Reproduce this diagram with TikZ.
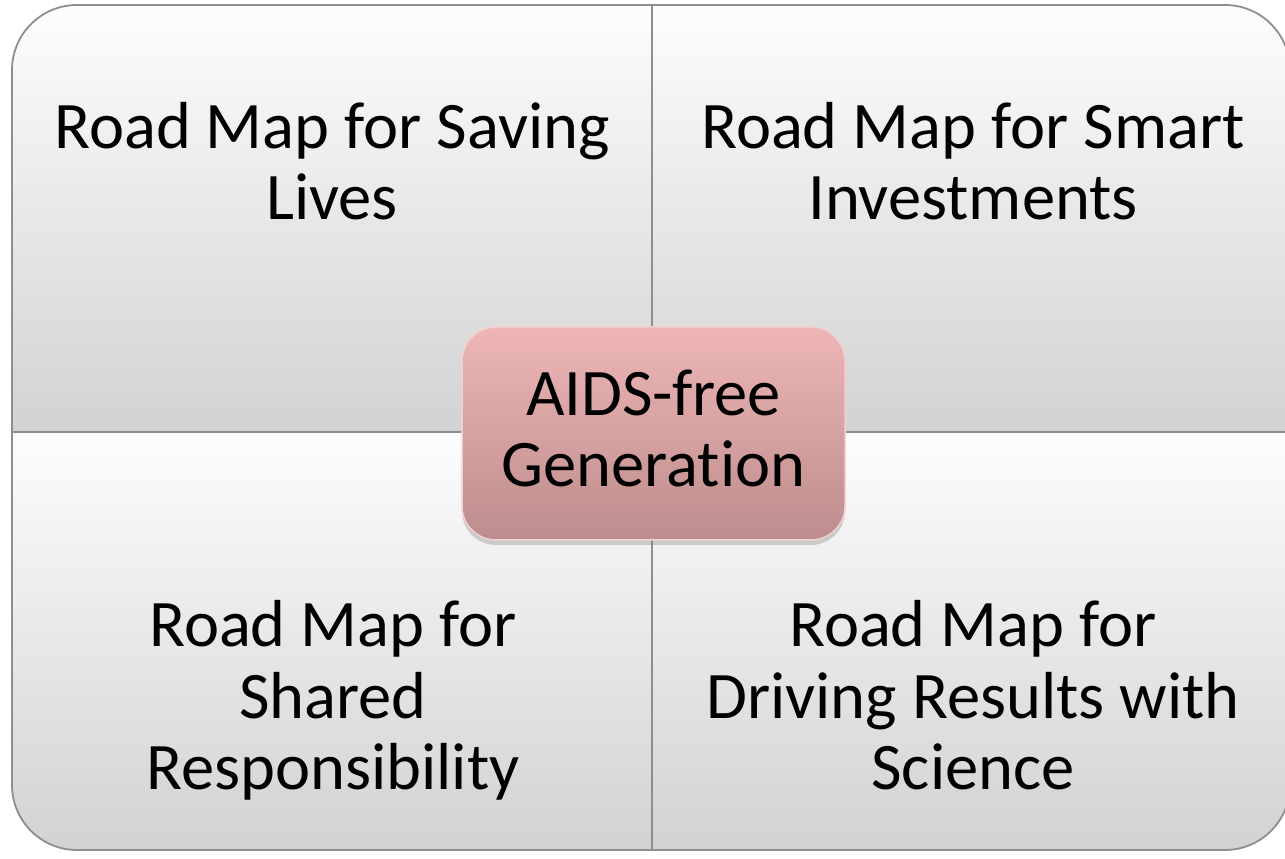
\documentclass[tikz,border=0pt]{standalone}
\usepackage{fontspec}
\setmainfont{Carlito}[Ligatures=NoCommon]
\usetikzlibrary{shadows}
\definecolor{quadtop}{HTML}{FDFDFD}
\definecolor{quadbot}{HTML}{D2D2D2}
\definecolor{quadedge}{HTML}{8E8E8E}
\definecolor{hubtop}{HTML}{EEB6B6}
\definecolor{hubbot}{HTML}{BD8C8C}
\definecolor{hubedge}{HTML}{F3D0D0}
\begin{document}
\begin{tikzpicture}[x=1pt,y=1pt,
  quad/.style={top color=quadtop, bottom color=quadbot, draw=quadedge, line width=1.8pt, line join=round},
  label/.style={font=\fontsize{66.5}{71.5}\selectfont, align=center, anchor=base, inner sep=0pt},
  hub/.style={rectangle, rounded corners=34pt, minimum width=383pt, minimum height=213pt,
    top color=hubtop, bottom color=hubbot, draw=hubedge, line width=1.5pt,
    drop shadow={opacity=0.35, shadow xshift=0pt, shadow yshift=-5pt}}]
  \useasboundingbox (0,0) rectangle (1285,859);
  % quadrant geometry
  \def\xl{12}\def\xr{1290}\def\yt{854}\def\yb{9}\def\xm{652}\def\ym{427}\def\rr{65}
  % four quadrants, each rounded at its outer corner
  \path[quad] (\xm,\ym) -- (\xl,\ym) -- (\xl,\yt-\rr) arc[start angle=180,end angle=90,radius=\rr pt] -- (\xm,\yt) -- cycle;
  \path[quad] (\xm,\ym) -- (\xm,\yt) -- (\xr-\rr,\yt) arc[start angle=90,end angle=0,radius=\rr pt] -- (\xr,\ym) -- cycle;
  \path[quad] (\xm,\ym) -- (\xm,\yb) -- (\xl+\rr,\yb) arc[start angle=270,end angle=180,radius=\rr pt] -- (\xl,\ym) -- cycle;
  \path[quad] (\xm,\ym) -- (\xr,\ym) -- (\xr,\yb+\rr) arc[start angle=0,end angle=-90,radius=\rr pt] -- (\xm,\yb) -- cycle;
  % quadrant labels (placed by the baseline of their last line)
  \node[label] (tl) at (332,639) {Road Map for Saving\\Lives};
  \node[label] (tr) at (973,639) {Road Map for Smart\\Investments};
  \node[label] (bl) at (333,69) {Road Map for\\Shared\\Responsibility};
  \node[label] (br) at (973,69) {Road Map for\\Driving Results with\\Science};
  % central goal
  \node[hub] (hub) at (653.5,425.5) {};
  \node[label] (goal) at (653.5,372) {AIDS-free\\Generation};
\end{tikzpicture}
\end{document}
